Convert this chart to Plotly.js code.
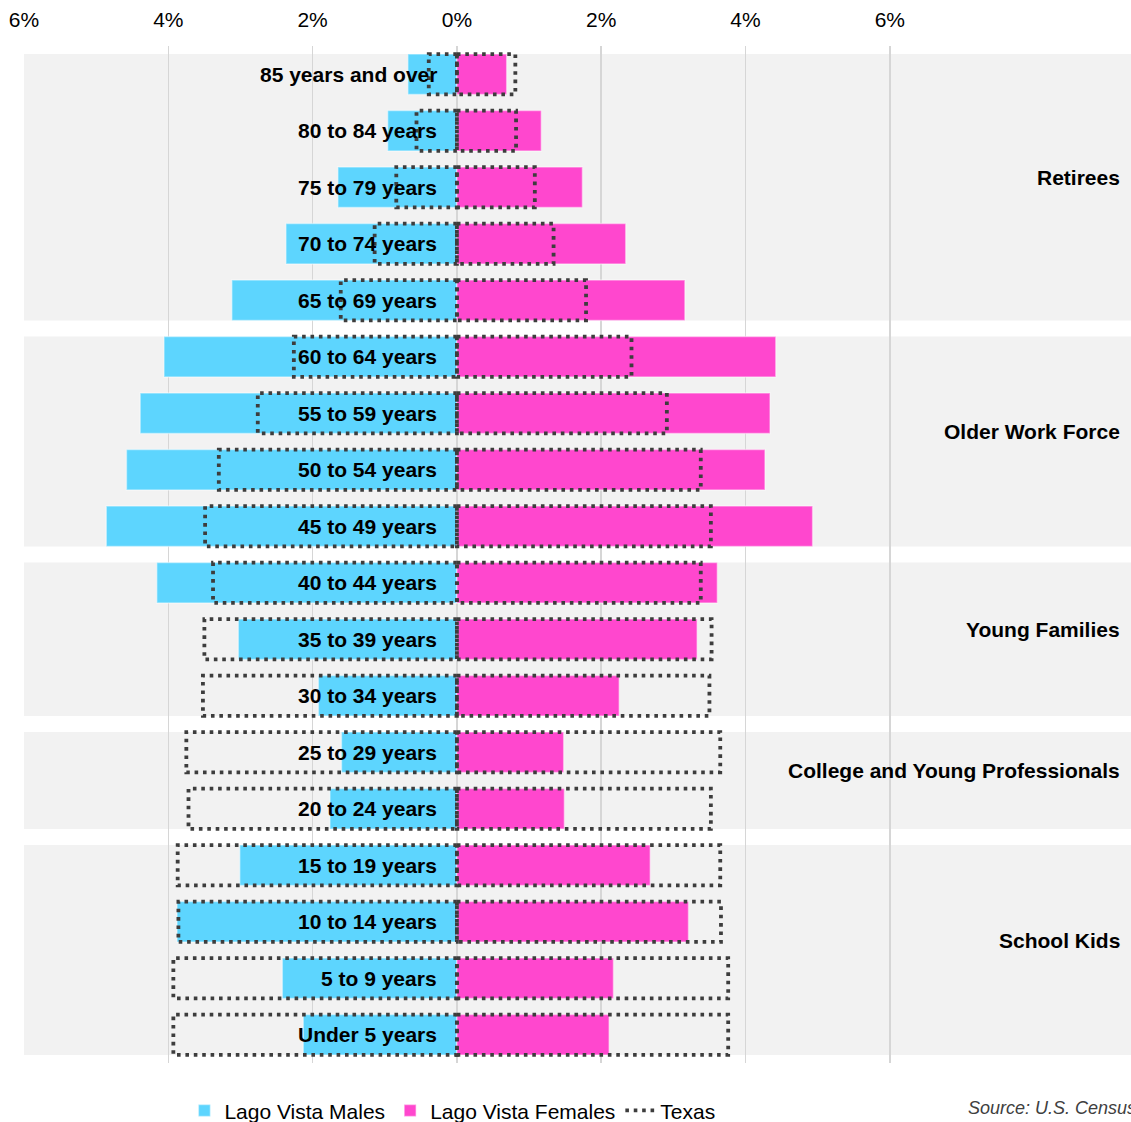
<!DOCTYPE html>
<html>
<head>
<meta charset="utf-8">
<script src="https://cdn.plot.ly/plotly-3.0.1.min.js"></script>
<style>html,body{margin:0;padding:0;background:#fff;}#chart{width:1131px;height:1122px;}</style>
</head>
<body>
<div id="chart"></div>
<script>
const ageGroups = ["85 years and over","80 to 84 years","75 to 79 years","70 to 74 years","65 to 69 years",
  "60 to 64 years","55 to 59 years","50 to 54 years","45 to 49 years","40 to 44 years","35 to 39 years",
  "30 to 34 years","25 to 29 years","20 to 24 years","15 to 19 years","10 to 14 years","5 to 9 years","Under 5 years"];
const lagoVistaMales   = [0.68,0.96,1.65,2.37,3.12,4.06,4.39,4.58,4.86,4.16,3.03,1.92,1.60,1.76,3.01,3.88,2.42,2.13];
const lagoVistaFemales = [0.69,1.17,1.74,2.34,3.16,4.42,4.34,4.27,4.93,3.61,3.33,2.25,1.48,1.49,2.68,3.21,2.17,2.11];
const texasMales       = [0.39,0.56,0.84,1.14,1.61,2.26,2.76,3.30,3.49,3.38,3.50,3.52,3.75,3.72,3.87,3.86,3.93,3.93];
const texasFemales     = [0.81,0.82,1.08,1.34,1.79,2.42,2.91,3.38,3.52,3.38,3.53,3.50,3.65,3.52,3.65,3.66,3.76,3.76];
const groupNames = ["Retirees","Older Work Force","Young Families","College and Young Professionals","School Kids"];
const groupFirst = [0,5,9,12,14];
const groupLast  = [4,8,11,13,17];
const tickVals = [-6,-4,-2,0,2,4,6];
const tickText = ["6%","4%","2%","0%","2%","4%","6%"];

const FONT = "Arial, 'Liberation Sans', sans-serif";
const rowIdx = ageGroups.map((_, i) => i);
const BAR_W = 0.715;
const HALF = BAR_W / 2;

const males = {
  type: 'bar', orientation: 'h', name: 'Lago Vista Males',
  y: rowIdx, x: lagoVistaMales.map(v => -v), width: BAR_W,
  marker: {color: '#5dd5fe', line: {color: 'rgba(255,255,255,0.45)', width: 1.5}},
  hoverinfo: 'skip'
};
const females = {
  type: 'bar', orientation: 'h', name: 'Lago Vista Females',
  y: rowIdx, x: lagoVistaFemales, width: BAR_W,
  marker: {color: '#ff47ce', line: {color: 'rgba(255,255,255,0.45)', width: 1.5}},
  hoverinfo: 'skip'
};
const tx = [], ty = [];
rowIdx.forEach(i => {
  const m = -texasMales[i], f = texasFemales[i];
  const t = i - HALF, b = i + HALF;
  tx.push(0, m, m, 0, 0, null); ty.push(t, t, b, b, t, null);
  tx.push(0, f, f, 0, 0, null); ty.push(t, t, b, b, t, null);
});
const texas = {
  type: 'scatter', mode: 'lines', name: 'Texas', x: tx, y: ty,
  line: {color: '#3d3d3d', width: 3.8, dash: '3.6px,4.8px'},
  connectgaps: false, hoverinfo: 'skip'
};

const shapes = groupNames.map((g, k) => ({
  type: 'rect', xref: 'paper', yref: 'y', x0: 0, x1: 1,
  y0: groupFirst[k] - 0.36, y1: groupLast[k] + 0.36,
  fillcolor: '#f2f2f2', line: {width: 0}, layer: 'below'
}));

const annotations = [];
ageGroups.forEach((lab, i) => annotations.push({
  xref: 'x', yref: 'y', x: 0, y: i, text: '<b>' + lab + '</b>',
  xanchor: 'right', yanchor: 'middle', xshift: -18, showarrow: false,
  font: {family: FONT, size: 21, color: '#000'}
}));
groupNames.forEach((g, k) => annotations.push({
  xref: 'paper', yref: 'y', x: 1, y: (groupFirst[k] + groupLast[k]) / 2, text: '<b>' + g + '</b>',
  xanchor: 'right', yanchor: 'middle', xshift: -9, yshift: 10, showarrow: false,
  font: {family: FONT, size: 21, color: '#000'}
}));
annotations.push({
  xref: 'paper', yref: 'paper', x: 0.8507, y: -0.044, xanchor: 'left', yanchor: 'middle',
  text: 'Source: U.S. Census Bureau, American Community Survey', showarrow: false,
  font: {family: FONT, size: 18, color: '#404040', style: 'italic'}
});

const layout = {
  width: 1131, height: 1122,
  margin: {l: 24, r: 0, t: 46, b: 59, autoexpand: false},
  paper_bgcolor: '#fff', plot_bgcolor: 'rgba(0,0,0,0)',
  barmode: 'overlay',
  font: {family: FONT, size: 21, color: '#000'},
  xaxis: {
    range: [-6, 9.343], side: 'top', tickmode: 'array', tickvals: tickVals, ticktext: tickText,
    showgrid: true, gridcolor: '#d6d6d6', gridwidth: 1.6, zeroline: false, ticks: '',
    ticklabelstandoff: 14, tickfont: {family: FONT, size: 21, color: '#000'},
    showline: false, fixedrange: true
  },
  yaxis: {range: [17.5, -0.5], showticklabels: false, showgrid: false, zeroline: false, ticks: '', fixedrange: true},
  showlegend: true,
  legend: {
    orientation: 'h', x: 0.387, xanchor: 'center', y: -0.047, yanchor: 'middle',
    font: {family: FONT, size: 21, color: '#000'}, bgcolor: 'rgba(0,0,0,0)', traceorder: 'normal'
  },
  shapes: shapes,
  annotations: annotations
};

Plotly.newPlot('chart', [males, females, texas], layout, {displayModeBar: false, staticPlot: true});
</script>
</body>
</html>
